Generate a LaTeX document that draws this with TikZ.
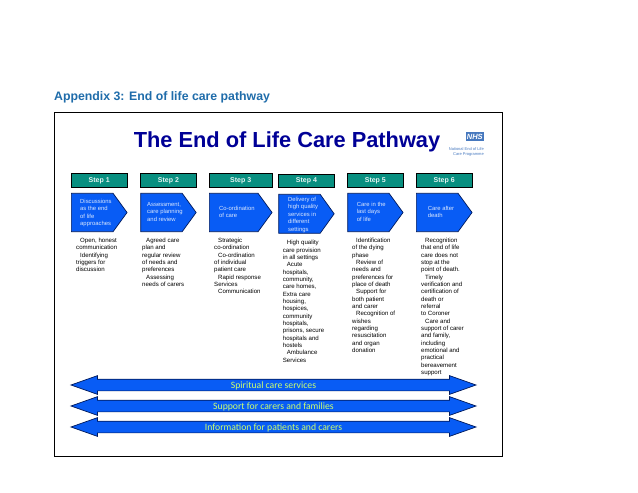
\documentclass[tikz,border=0pt]{standalone}
\usepackage{fontspec}
\setmainfont{Liberation Sans}
\newfontfamily\barfont{Carlito}
\usetikzlibrary{shapes.symbols,shapes.arrows}
\definecolor{headblue}{RGB}{31,108,170}
\definecolor{titleblue}{RGB}{0,0,150}
\definecolor{stepteal}{RGB}{8,143,128}
\definecolor{boxblue}{RGB}{8,92,245}
\definecolor{boxedge}{RGB}{0,25,90}
\definecolor{barlabel}{RGB}{205,255,110}
\definecolor{nhsblue}{RGB}{70,120,190}
\newcommand{\ind}{\hspace*{4pt}}
\tikzset{
  steplabel/.style={draw=black,fill=stepteal,text=white!90!stepteal,line width=0.7pt,inner sep=0pt,font=\fontsize{7}{8}\selectfont\bfseries,minimum height=13.4pt},
  stepshape/.style={signal,signal to=east,draw=boxedge,fill=boxblue,line width=0.7pt,inner sep=0pt,anchor=west,minimum height=38.4pt},
  steptext/.style={anchor=north west,align=left,inner sep=0pt,text=white!85!boxblue,font=\fontsize{5.9}{7.4}\selectfont},
  bodytext/.style={anchor=north west,align=left,inner sep=0pt,font=\fontsize{6.1}{7.33}\selectfont},
  carebar/.style={double arrow,double arrow head extend=3.5pt,double arrow tip angle=39,draw=boxedge,fill=boxblue,line width=0.7pt,inner xsep=0pt,inner ysep=0pt,minimum height=405pt,text height=8.5pt,text depth=2.5pt,text=barlabel,font=\barfont\fontsize{9.7}{12}\selectfont},
}
\begin{document}
\begin{tikzpicture}[x=1pt,y=-1pt]
  \useasboundingbox (0,0) rectangle (638,493);
  % heading and frame
  \node[anchor=west,inner sep=0pt,text=headblue,font=\fontsize{12.3}{14}\selectfont\bfseries] (heading) at (54,97) {Appendix 3: End of life care pathway};
  \node[draw=black,line width=0.9pt,anchor=north west,inner sep=0pt,minimum width=448.5pt,minimum height=344pt] (frame) at (53.5,112) {};
  \node[anchor=center,inner sep=0pt,text=titleblue,font=\fontsize{21.8}{26}\selectfont\bfseries] (title) at (287,142) {The End of Life Care Pathway};
  % logo
  \node[fill=nhsblue,text=white,anchor=center,inner sep=0pt,minimum width=17.7pt,minimum height=8.4pt,font=\fontsize{7.5}{8}\selectfont\bfseries\itshape] (nhs) at (474.8,136.5) {NHS};
  \node[anchor=north east,align=right,inner sep=0pt,text=nhsblue,font=\fontsize{4}{5.2}\selectfont] (nhstext) at (484,147.5) {National End of Life\\Care Programme};
  % steps
  \foreach \n/\x/\w/\y/\hgt in {1/71/55.7/212.5/38.4,2/140.3/55.5/212.5/38.4,3/209/62.7/212.5/38.4,4/278.3/55.5/213.8/39,5/347.3/55.4/212.5/38.4,6/416/55.7/212.5/38.4} {
    \node[steplabel,anchor=north west,minimum width=\w pt] (step\n) at (\x,{173.3+(\n==4)*0.7}) {Step \n};
    \pgfmathsetmacro{\ang}{2*atan(\hgt/2/14)}
    \node[stepshape,minimum width=\w pt,minimum height=\hgt pt,signal pointer angle=\ang] (care\n) at (\x,\y) {};
  }
  % step wording
  \node[steptext] (care1text) at (80,199) {Discussions\\as the end\\of life\\approaches};
  \node[steptext] (care2text) at (147,202) {Assessment,\\care planning\\and review};
  \node[steptext] (care3text) at (219,206) {Co-ordination\\of care};
  \node[steptext] (care4text) at (288,197) {Delivery of\\high quality\\services in\\different\\settings};
  \node[steptext] (care5text) at (356.7,202) {Care in the\\last days\\of life};
  \node[steptext] (care6text) at (427.7,206) {Care after\\death};
  % detail columns
  \node[bodytext] (detail1) at (76,238) {\ind Open, honest\\communication\\\ind Identifying\\triggers for\\discussion};
  \node[bodytext] (detail2) at (142,238) {\ind Agreed care\\plan and\\regular review\\of needs and\\preferences\\\ind Assessing\\needs of carers};
  \node[bodytext] (detail3) at (214,238) {\ind Strategic\\co-ordination\\\ind Co-ordination\\of individual\\patient care\\\ind Rapid response\\Services\\\ind Communication};
  \node[bodytext] (detail4) at (282.7,240.3) {\ind High quality\\care provision\\in all settings\\\ind Acute\\hospitals,\\community,\\care homes,\\Extra care\\housing,\\hospices,\\community\\hospitals,\\prisons, secure\\hospitals and\\hostels\\\ind Ambulance\\Services};
  \node[bodytext] (detail5) at (352,238) {\ind Identification\\of the dying\\phase\\\ind Review of\\needs and\\preferences for\\place of death\\\ind Support for\\both patient\\and carer\\\ind Recognition of\\wishes\\regarding\\resuscitation\\and organ\\donation};
  \node[bodytext] (detail6) at (421,238) {\ind Recognition\\that end of life\\care does not\\stop at the\\point of death.\\\ind Timely\\verification and\\certification of\\death or\\referral\\to Coroner\\\ind Care and\\support of carer\\and family,\\including\\emotional and\\practical\\bereavement\\support};
  % bars
  \foreach \y/\t [count=\i] in {385/Spiritual care services,406/Support for carers and families,427/Information for patients and carers} {
    \node[carebar] (bar\i) at (273.5,\y) {\t};
  }
\end{tikzpicture}
\end{document}
